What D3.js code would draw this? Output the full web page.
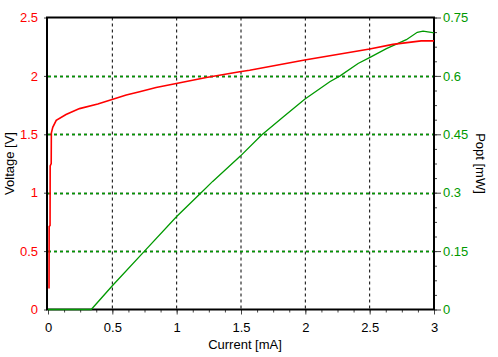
<!DOCTYPE html>
<html><head><meta charset="utf-8">
<script src="https://cdn.jsdelivr.net/npm/d3@7"></script>
<style>body{margin:0;background:#fff}svg{display:block}text{font-family:"Liberation Sans",Arial,sans-serif;font-size:13px}</style>
</head><body><svg id="c" width="498" height="357"></svg>
<script>
const currentTicks = [0, 0.5, 1, 1.5, 2, 2.5, 3];
const voltageTicks = [0, 0.5, 1, 1.5, 2, 2.5];
const poptTicks = [0, 0.15, 0.3, 0.45, 0.6, 0.75];
const voltageCurrent = [0.008,0.009,0.016,0.017,0.025,0.026,0.037,0.064,0.14,0.245,0.387,0.504,0.608,0.712,0.84,0.997,1.23,1.49,1.567,1.995,2.5,2.68,2.9,3.0];
const voltageValues  = [0.18,0.71,0.72,1.23,1.25,1.51,1.56,1.62,1.67,1.72,1.76,1.80,1.836,1.865,1.90,1.935,1.987,2.036,2.048,2.136,2.23,2.27,2.30,2.30];
const poptCurrent = [0,0.336,0.5,0.75,1.0,1.19,1.28,1.495,1.66,1.83,1.995,2.19,2.27,2.41,2.51,2.63,2.785,2.87,2.915,2.99,3.0];
const poptValues  = [0,0,0.061,0.15,0.239,0.30,0.329,0.394,0.448,0.495,0.540,0.585,0.600,0.632,0.649,0.670,0.693,0.712,0.715,0.711,0.711];

const svg = d3.select('#c');
const L = 48, R = 434, T = 17.5, B = 309.5;
const x = d3.scaleLinear().domain([0,3]).range([L,R]);
const yV = d3.scaleLinear().domain([0,2.5]).range([B,T]);
const yP = d3.scaleLinear().domain([0,0.75]).range([B,T]);
const red = '#ff0000', green = '#009900';

// grid
svg.append('g').selectAll('line').data(currentTicks.slice(1,-1)).join('line')
  .attr('x1', d=>x(d)).attr('x2', d=>x(d)).attr('y1', T).attr('y2', B)
  .attr('stroke','#000').attr('stroke-dasharray','3,3').attr('stroke-width',1);
svg.append('g').selectAll('line').data(voltageTicks.slice(1,-1)).join('line')
  .attr('x1', L).attr('x2', R).attr('y1', d=>Math.round(yV(d))+0.5).attr('y2', d=>Math.round(yV(d))+0.5)
  .attr('stroke','#000').attr('stroke-dasharray','3,3').attr('stroke-width',1.5);
svg.append('g').selectAll('line').data(poptTicks.slice(1,-1)).join('line')
  .attr('x1', L).attr('x2', R).attr('y1', d=>Math.round(yP(d))+0.5).attr('y2', d=>Math.round(yP(d))+0.5)
  .attr('stroke',green).attr('stroke-dasharray','3,3').attr('stroke-width',1.5);

// axes
const ax = svg.append('g').attr('transform',`translate(0,${B})`)
  .call(d3.axisBottom(x).tickValues(currentTicks).tickSize(5).tickPadding(8).tickFormat(d3.format('')));
const axm = svg.append('g').attr('transform',`translate(0,${B})`)
  .call(d3.axisBottom(x).tickValues(d3.range(0,3.001,0.125)).tickSize(3).tickFormat(''));
const ayl = svg.append('g').attr('transform',`translate(${L-1},0)`)
  .call(d3.axisLeft(yV).tickValues(voltageTicks).tickSize(3).tickPadding(6).tickFormat(d3.format('')));
const ayr = svg.append('g').attr('transform',`translate(${R},0)`)
  .call(d3.axisRight(yP).tickValues(poptTicks).tickSize(7).tickPadding(2).tickFormat(d3.format('')));
const ayrm = svg.append('g').attr('transform',`translate(${R},0)`)
  .call(d3.axisRight(yP).tickValues(d3.range(0,0.7501,0.0375)).tickSize(3).tickFormat(''));
[ax,axm,ayl,ayr,ayrm].forEach(g=>{g.select('.domain').remove(); g.selectAll('line').attr('stroke','#444');});
ax.selectAll('text').attr('fill','#000');
ayl.selectAll('text').attr('fill',red);
ayr.selectAll('text').attr('fill',green);

// frame
svg.append('rect').attr('x',L-1).attr('y',T).attr('width',R-L+1).attr('height',B-T)
  .attr('fill','none').attr('stroke','#000').attr('stroke-width',2);

// curves
const lineV = d3.line().x(d=>x(d[0])).y(d=>yV(d[1]));
const lineP = d3.line().x(d=>x(d[0])).y(d=>yP(d[1]));
svg.append('path').datum(poptCurrent.map((c,i)=>[c,poptValues[i]]))
  .attr('d',lineP).attr('fill','none').attr('stroke',green).attr('stroke-width',1.3);
svg.append('path').datum(voltageCurrent.map((c,i)=>[c,voltageValues[i]]))
  .attr('d',lineV).attr('fill','none').attr('stroke',red).attr('stroke-width',1.6);

// titles
svg.append('text').attr('x',(L+R)/2+4).attr('y',349).attr('text-anchor','middle').text('Current [mA]');
svg.append('text').attr('transform',`translate(14,${(T+B)/2}) rotate(-90)`).attr('text-anchor','middle').text('Voltage [V]');
svg.append('text').attr('transform',`translate(476,${(T+B)/2}) rotate(90)`).attr('text-anchor','middle').text('Popt [mW]');
</script></body></html>
